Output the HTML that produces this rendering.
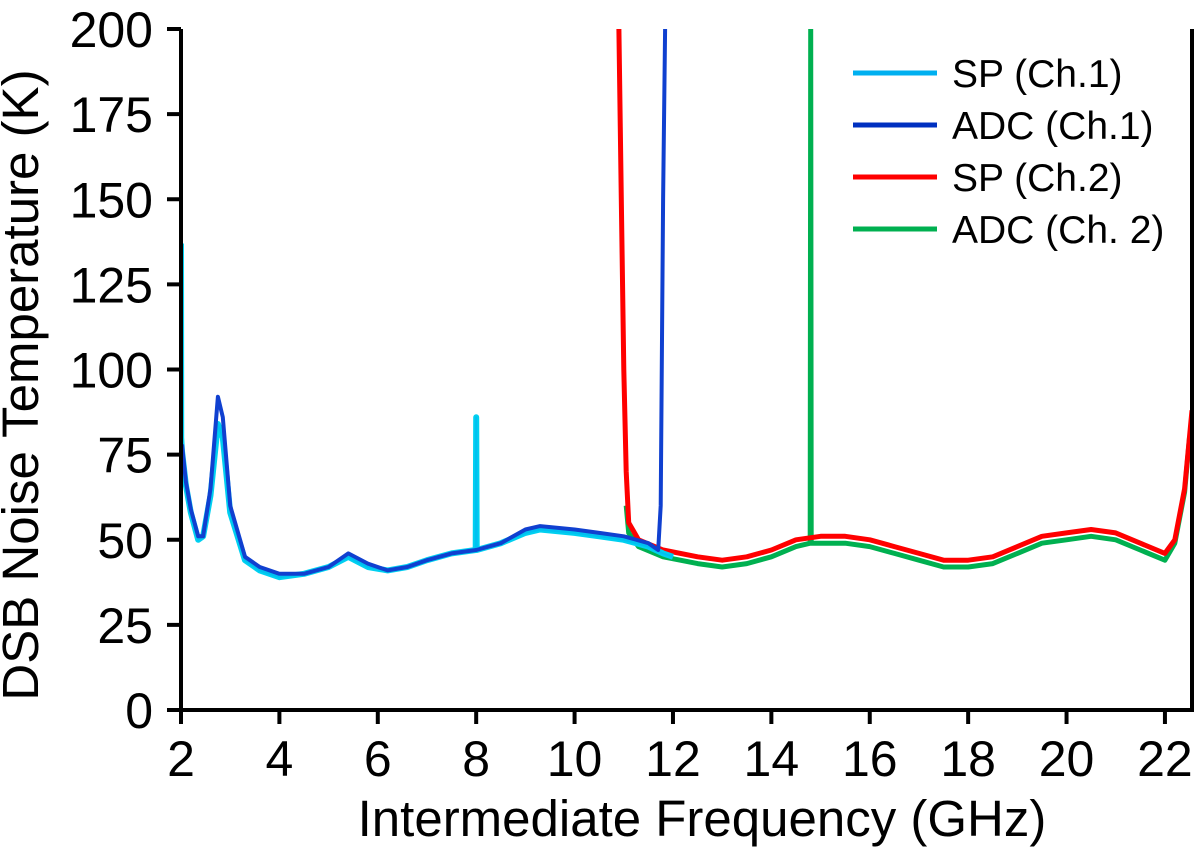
<!DOCTYPE html>
<html><head><meta charset="utf-8"><style>
body{margin:0;background:#fff}
svg{display:block;font-family:"Liberation Sans",sans-serif}
</style></head><body>
<svg id="chart" width="1200" height="861"></svg>
<script>
const xTicks=[2,4,6,8,10,12,14,16,18,20,22];
const yTicks=[0,25,50,75,100,125,150,175,200];
const spCh1F=[2.0,2.005,2.02,2.1,2.2,2.35,2.45,2.6,2.75,2.85,3.0,3.3,3.6,4,4.5,5,5.4,5.8,6.2,6.6,7,7.5,7.99,8.0,8.01,8.5,9,9.3,10,10.5,11,11.5,11.8,12.0];
const spCh1V=[137,80,76,66,58,50,51,63,84,80,58,44,41,39,40,42,45,42,41,42,44,46,47,86,47,49,52,53,52,51,50,48,46,45];
const adcCh1F=[2.02,2.1,2.2,2.35,2.45,2.6,2.75,2.85,3.0,3.3,3.6,4,4.5,5,5.4,5.8,6.2,6.6,7,7.5,8,8.5,9,9.3,10,10.5,11,11.5,11.7,11.75,11.8,11.84];
const adcCh1V=[78,67,59,51,51,65,92,86,60,45,42,40,40,42,46,43,41,42,44,46,47,49,53,54,53,52,51,49,47,60,150,200];
const spCh2F=[10.9,10.95,11.0,11.05,11.1,11.3,11.8,12.5,13,13.5,14,14.5,15,15.5,16,16.5,17,17.5,18,18.5,19,19.5,20,20.5,21,21.5,22,22.2,22.4,22.55];
const spCh2V=[200,150,100,70,55,50,47,45,44,45,47,50,51,51,50,48,46,44,44,45,48,51,52,53,52,49,46,50,65,88];
const adcCh2F=[11.05,11.1,11.3,11.8,12.5,13,13.5,14,14.5,14.79,14.8,14.81,15,15.5,16,16.5,17,17.5,18,18.5,19,19.5,20,20.5,21,21.5,22,22.2,22.4,22.5];
const adcCh2V=[60,52,48,45,43,42,43,45,48,49,200,49,49,49,48,46,44,42,42,43,46,49,50,51,50,47,44,49,64,80];

const NS='http://www.w3.org/2000/svg';
const svg=document.getElementById('chart');
const X0=181,X1=1192,Y0=710,Y1=29,XMIN=2,XMAX=22.55,YMIN=0,YMAX=200;
const sx=v=>X0+(v-XMIN)/(XMAX-XMIN)*(X1-X0);
const sy=v=>Y0-(v-YMIN)/(YMAX-YMIN)*(Y0-Y1);
function mk(tag,attrs,parent){const e=document.createElementNS(NS,tag);for(const k in attrs)e.setAttribute(k,attrs[k]);(parent||svg).appendChild(e);return e;}
const defs=mk('defs',{});const cp=mk('clipPath',{id:'clip'},defs);mk('rect',{x:X0,y:Y1,width:X1-X0,height:Y0-Y1},cp);

function series(F,V,color,w,name){
  let d='';F.forEach((f,i)=>{d+=(i?'L':'M')+sx(f).toFixed(1)+','+sy(Math.min(V[i],205)).toFixed(1);});
  const p=mk('path',{d:d,fill:'none',stroke:color,'stroke-width':w,'stroke-linejoin':'round','clip-path':'url(#clip)'});
  
  
}
series(adcCh2F,adcCh2V,'#00b050',5,'series-adc-ch2-band');
series(adcCh2F,adcCh2V,'#00b050',2,'series-adc-ch2');
series(spCh2F,spCh2V,'#ff0000',5,'series-sp-ch2');
series(spCh1F,spCh1V,'#00d0f0',6,'series-sp-ch1-band');
series(spCh1F,spCh1V,'#00c0f0',2,'series-sp-ch1');
series(adcCh1F,adcCh1V,'#1040d0',4,'series-adc-ch1');

const ax=mk('path',{d:`M${X0},${Y1}V${Y0}H${X1}V${Y1}`,fill:'none',stroke:'#000','stroke-width':4});

xTicks.forEach(t=>{
  const l=mk('line',{x1:sx(t),x2:sx(t),y1:Y0,y2:Y0+14,stroke:'#000','stroke-width':4});
  
  const tx=mk('text',{x:sx(t),y:Y0+66,'text-anchor':'middle','font-size':50});tx.textContent=t;
  
});
yTicks.forEach(t=>{
  const l=mk('line',{x1:X0-14,x2:X0,y1:sy(t),y2:sy(t),stroke:'#000','stroke-width':4});
  
  const tx=mk('text',{x:X0-28,y:sy(t)+18,'text-anchor':'end','font-size':50});tx.textContent=t;
  
});
const xt=mk('text',{x:702,y:836,'text-anchor':'middle','font-size':51});xt.textContent='Intermediate Frequency (GHz)';

const yt=mk('text',{x:0,y:0,'text-anchor':'middle','font-size':51,transform:'translate(38,385) rotate(-90)'});yt.textContent='DSB Noise Temperature (K)';


const legNames=['SP (Ch.1)','ADC (Ch.1)','SP (Ch.2)','ADC (Ch. 2)'];
const legColors=['#00b0f0','#0030c0','#ff0000','#00b050'];
legNames.forEach((n,i)=>{
  const y=73+i*52;
  const l=mk('line',{x1:853,x2:937,y1:y,y2:y,stroke:legColors[i],'stroke-width':5});
  
  const t=mk('text',{x:952,y:y+14,'font-size':39});t.textContent=n;
  
});
</script>
</body></html>
